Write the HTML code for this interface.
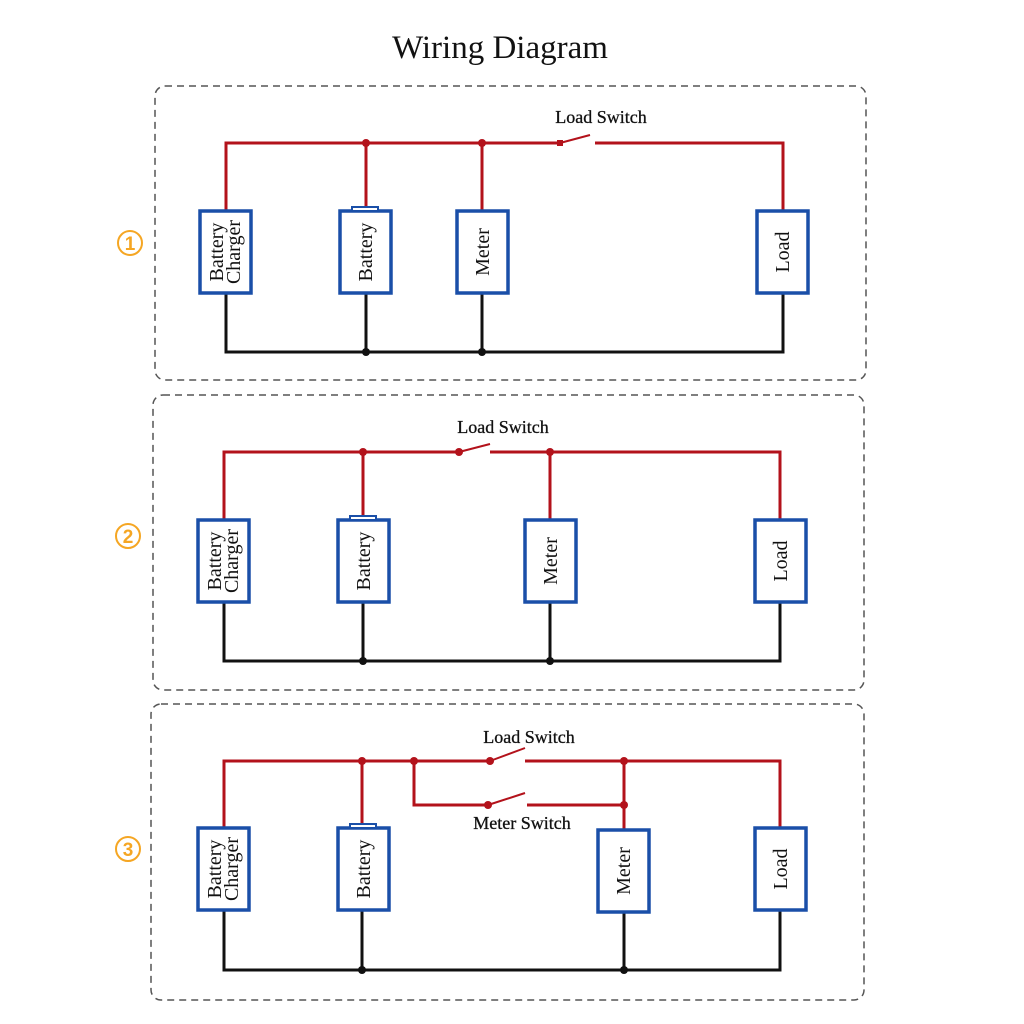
<!DOCTYPE html>
<html><head><meta charset="utf-8"><style>body{margin:0;background:#fff}svg{display:block}</style></head><body>
<svg width="1024" height="1024" viewBox="0 0 1024 1024" font-family="Liberation Serif, serif">
<text x="500" y="58" font-size="33" text-anchor="middle" fill="#111">Wiring Diagram</text>
<g fill="none" stroke="#555" stroke-width="1.5" stroke-dasharray="7,5">
<rect x="155" y="86" width="711" height="294" rx="10"/>
<rect x="153" y="395" width="711" height="295" rx="10"/>
<rect x="151" y="704" width="713" height="296" rx="10"/>
</g>
<g font-family="Liberation Sans, sans-serif" fill="#f5a623" font-size="19" font-weight="bold" text-anchor="middle">
<circle cx="130" cy="243" r="12" fill="none" stroke="#f5a623" stroke-width="2"/><text x="130" y="250">1</text>
<circle cx="128" cy="536" r="12" fill="none" stroke="#f5a623" stroke-width="2"/><text x="128" y="543">2</text>
<circle cx="128" cy="849" r="12" fill="none" stroke="#f5a623" stroke-width="2"/><text x="128" y="856">3</text>
</g>
<!-- Panel 1 -->
<g stroke="#b3121b" stroke-width="3" fill="none">
<polyline points="226,211 226,143 560,143"/><polyline points="595,143 783,143 783,211"/>
<line x1="366" y1="143" x2="366" y2="208"/><line x1="482" y1="143" x2="482" y2="211"/>
<line x1="560" y1="143" x2="590" y2="135" stroke-width="2"/>
</g>
<g fill="#b3121b"><circle cx="366" cy="143" r="4"/><circle cx="482" cy="143" r="4"/><rect x="557" y="140" width="6" height="6"/></g>
<g stroke="#111" stroke-width="3" fill="none">
<polyline points="226,293 226,352 783,352 783,293"/><line x1="366" y1="293" x2="366" y2="352"/><line x1="482" y1="293" x2="482" y2="352"/>
</g>
<g fill="#111"><circle cx="366" cy="352" r="4"/><circle cx="482" cy="352" r="4"/></g>
<g font-size="18" text-anchor="middle" fill="#111" stroke="#111" stroke-width="0.3">
<text x="601" y="123">Load Switch</text>
<text x="503" y="433">Load Switch</text>
<text x="529" y="743">Load Switch</text>
<text x="522" y="829">Meter Switch</text>
</g>
<!-- Panel 2 -->
<g stroke="#b3121b" stroke-width="3" fill="none">
<polyline points="224,520 224,452 459,452"/><polyline points="490,452 780,452 780,520"/>
<line x1="363" y1="452" x2="363" y2="517"/><line x1="550" y1="452" x2="550" y2="520"/>
<line x1="459" y1="452" x2="490" y2="444" stroke-width="2"/>
</g>
<g fill="#b3121b"><circle cx="363" cy="452" r="4"/><circle cx="550" cy="452" r="4"/><circle cx="459" cy="452" r="4"/></g>
<g stroke="#111" stroke-width="3" fill="none">
<polyline points="224,602 224,661 780,661 780,602"/><line x1="363" y1="602" x2="363" y2="661"/><line x1="550" y1="602" x2="550" y2="661"/>
</g>
<g fill="#111"><circle cx="363" cy="661" r="4"/><circle cx="550" cy="661" r="4"/></g>
<!-- Panel 3 -->
<g stroke="#b3121b" stroke-width="3" fill="none">
<polyline points="224,828 224,761 490,761"/><polyline points="525,761 780,761 780,828"/>
<line x1="362" y1="761" x2="362" y2="825"/><line x1="624" y1="761" x2="624" y2="830"/>
<polyline points="414,761 414,805 488,805"/><line x1="527" y1="805" x2="624" y2="805"/>
<line x1="490" y1="761" x2="525" y2="748" stroke-width="2"/>
<line x1="488" y1="805" x2="525" y2="793" stroke-width="2"/>
</g>
<g fill="#b3121b"><circle cx="362" cy="761" r="4"/><circle cx="414" cy="761" r="4"/><circle cx="624" cy="761" r="4"/><circle cx="490" cy="761" r="4"/><circle cx="488" cy="805" r="4"/><circle cx="624" cy="805" r="4"/></g>
<g stroke="#111" stroke-width="3" fill="none">
<polyline points="224,910 224,970 780,970 780,910"/><line x1="362" y1="910" x2="362" y2="970"/><line x1="624" y1="912" x2="624" y2="970"/>
</g>
<g fill="#111"><circle cx="362" cy="970" r="4"/><circle cx="624" cy="970" r="4"/></g>
<!-- Boxes -->
<g fill="#fff" stroke="#1a4fa8" stroke-width="3.5">
<rect x="200" y="211" width="51" height="82"/><rect x="340" y="211" width="51" height="82"/><rect x="457" y="211" width="51" height="82"/><rect x="757" y="211" width="51" height="82"/>
<rect x="198" y="520" width="51" height="82"/><rect x="338" y="520" width="51" height="82"/><rect x="525" y="520" width="51" height="82"/><rect x="755" y="520" width="51" height="82"/>
<rect x="198" y="828" width="51" height="82"/><rect x="338" y="828" width="51" height="82"/><rect x="598" y="830" width="51" height="82"/><rect x="755" y="828" width="51" height="82"/>
<rect x="352" y="207" width="26" height="4" stroke-width="2"/><rect x="350" y="516" width="26" height="4" stroke-width="2"/><rect x="350" y="824" width="26" height="4" stroke-width="2"/>
</g>
<g font-size="20" fill="#111" text-anchor="middle">
<text transform="translate(225,252) rotate(-90)"><tspan x="0" y="-2">Battery</tspan><tspan x="0" y="15">Charger</tspan></text>
<text transform="translate(372,252) rotate(-90)">Battery</text>
<text transform="translate(489,252) rotate(-90)">Meter</text>
<text transform="translate(789,252) rotate(-90)">Load</text>
<text transform="translate(223,561) rotate(-90)"><tspan x="0" y="-2">Battery</tspan><tspan x="0" y="15">Charger</tspan></text>
<text transform="translate(370,561) rotate(-90)">Battery</text>
<text transform="translate(557,561) rotate(-90)">Meter</text>
<text transform="translate(787,561) rotate(-90)">Load</text>
<text transform="translate(223,869) rotate(-90)"><tspan x="0" y="-2">Battery</tspan><tspan x="0" y="15">Charger</tspan></text>
<text transform="translate(370,869) rotate(-90)">Battery</text>
<text transform="translate(630,871) rotate(-90)">Meter</text>
<text transform="translate(787,869) rotate(-90)">Load</text>
</g>
</svg>
</body></html>
